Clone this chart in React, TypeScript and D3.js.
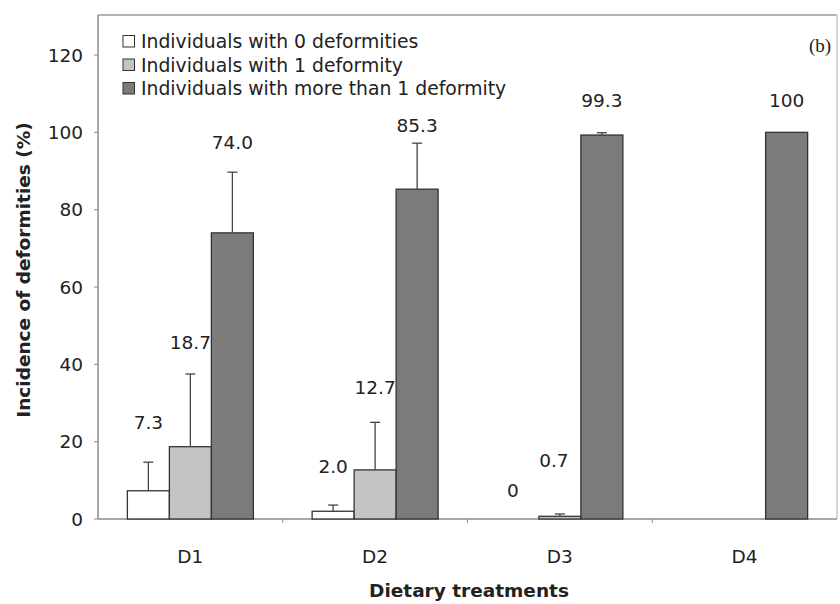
import React from "react";
import * as d3 from "d3";

const categories = ["D1", "D2", "D3", "D4"];
const seriesNames = [
  "Individuals with 0 deformities",
  "Individuals with 1 deformity",
  "Individuals with more than 1 deformity",
];
const zeroDef = [7.3, 2.0, 0, 0];
const zeroErr = [7.4, 1.6, 0, 0];
const oneDef = [18.7, 12.7, 0.7, 0];
const oneErr = [18.8, 12.3, 0.6, 0];
const moreDef = [74.0, 85.3, 99.3, 100];
const moreErr = [15.7, 11.9, 0.6, 0];
// label text and the value level at which each label sits
const zeroLabels = ["7.3", "2.0", "0", null];
const oneLabels = ["18.7", "12.7", "0.7", null];
const moreLabels = ["74.0", "85.3", "99.3", "100"];
const zeroLabelAt = [25.1, 13.7, 7.5, 0];
const oneLabelAt = [45.8, 34.1, 15.3, 0];
const moreLabelAt = [97.5, 101.9, 108.4, 108.4];
const yTicks = [0, 20, 40, 60, 80, 100, 120];
const colors = ["#ffffff", "#c4c4c4", "#7b7b7b"];

const W = 840;
const H = 604;
const left = 98;
const right = 837;
const top = 15;
const bottom = 519;

export default function App() {
  const x = d3.scaleBand().domain(categories).range([left, right]).padding(0);
  const y = d3.scaleLinear().domain([0, 120]).range([bottom, 55]);
  const barW = 42;
  const series = [
    { vals: zeroDef, errs: zeroErr, labels: zeroLabels, at: zeroLabelAt },
    { vals: oneDef, errs: oneErr, labels: oneLabels, at: oneLabelAt },
    { vals: moreDef, errs: moreErr, labels: moreLabels, at: moreLabelAt },
  ];
  const font = "DejaVu Sans, Verdana, sans-serif";
  const fs = 18.5;

  return (
    <svg
      width={W}
      height={H}
      style={{ position: "absolute", left: 0, top: 0, background: "#fff" }}
      fontFamily={font}
    >
      {/* frame */}
      <line x1={left} x2={right} y1={top} y2={top} stroke="#b5b5b5" strokeWidth={2} />
      <line x1={right} x2={right} y1={top} y2={bottom} stroke="#c8c8c8" strokeWidth={1.5} />
      <line x1={left} x2={left} y1={top} y2={bottom} stroke="#8a8a8a" strokeWidth={1.5} />
      <line x1={left} x2={right} y1={bottom} y2={bottom} stroke="#8a8a8a" strokeWidth={1.5} />

      {/* y ticks */}
      {yTicks.map((t) => (
        <g key={t}>
          <line x1={left - 4} x2={left} y1={y(t)} y2={y(t)} stroke="#8a8a8a" />
          <text x={left - 15} y={y(t)} dy="0.36em" textAnchor="end" fontSize={fs} fill="#222">
            {t}
          </text>
        </g>
      ))}

      {/* x ticks */}
      {categories.slice(1).map((c) => (
        <line key={c} x1={x(c)} x2={x(c)} y1={bottom} y2={bottom + 4} stroke="#8a8a8a" />
      ))}
      {categories.map((c) => (
        <text
          key={c}
          x={(x(c) as number) + x.bandwidth() / 2}
          y={556}
          dy="0.36em"
          textAnchor="middle"
          fontSize={fs}
          fill="#222"
        >
          {c}
        </text>
      ))}

      {/* bars */}
      {series.map((s, si) =>
        categories.map((c, ci) => {
          const cx = (x(c) as number) + x.bandwidth() / 2;
          const bx = cx - 1.5 * barW + si * barW;
          const v = s.vals[ci];
          const e = s.errs[ci];
          const mid = bx + barW / 2;
          return (
            <g key={c + si}>
              {v > 0 && (
                <rect
                  x={bx}
                  y={y(v)}
                  width={barW}
                  height={bottom - y(v)}
                  fill={colors[si]}
                  stroke="#333"
                  strokeWidth={1.3}
                />
              )}
              {e > 0 && (
                <g stroke="#444" strokeWidth={1.3}>
                  <line x1={mid} x2={mid} y1={y(v)} y2={y(v + e)} />
                  <line x1={mid - 5} x2={mid + 5} y1={y(v + e)} y2={y(v + e)} />
                </g>
              )}
              {s.labels[ci] !== null && (
                <text
                  x={mid - (si === 1 && ci === 2 ? 6 : 0) - (si === 0 && ci === 2 ? 5 : 0)}
                  y={y(s.at[ci])}
                  dy="0.36em"
                  textAnchor="middle"
                  fontSize={fs}
                  fill="#222"
                >
                  {s.labels[ci]}
                </text>
              )}
            </g>
          );
        })
      )}

      {/* legend */}
      {seriesNames.map((n, i) => (
        <g key={n}>
          <rect
            x={123}
            y={35.5 + i * 23.5}
            width={11.5}
            height={11.5}
            fill={colors[i]}
            stroke="#333"
            strokeWidth={1}
          />
          <text x={141} y={41.5 + i * 23.5} dy="0.36em" fontSize={18.8} fill="#222">
            {n}
          </text>
        </g>
      ))}

      <text x={820} y={45} dy="0.35em" textAnchor="middle" fontSize={19} fontFamily="Liberation Serif, Times New Roman, serif" fill="#222">
        (b)
      </text>

      {/* axis titles */}
      <text
        transform={`translate(23,270) rotate(-90)`}
        textAnchor="middle"
        dy="0.36em"
        fontSize={fs}
        fontWeight="bold"
        fill="#222"
      >
        Incidence of deformities (%)
      </text>
      <text x={469} y={590} dy="0.36em" textAnchor="middle" fontSize={fs} fontWeight="bold" fill="#222">
        Dietary treatments
      </text>
    </svg>
  );
}
